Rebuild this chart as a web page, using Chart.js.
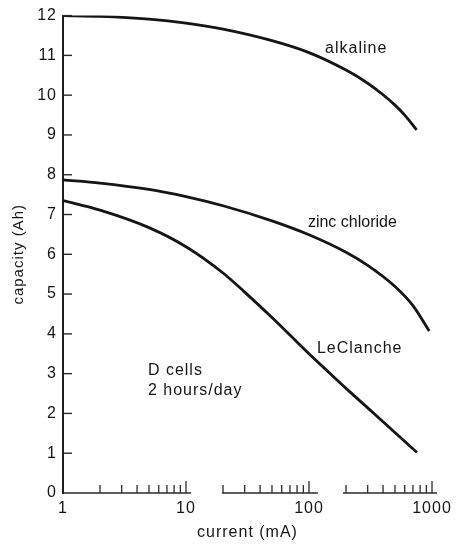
<!DOCTYPE html>
<html>
<head>
<meta charset="utf-8">
<script src="https://cdn.jsdelivr.net/npm/chart.js@4"></script>
<style>
  html, body { margin: 0; padding: 0; background: #fff; }
  #wrap { width: 460px; height: 547px; }
</style>
</head>
<body>
<div id="wrap"><canvas id="capacityChart"></canvas></div>
<script>
// current (mA) vs capacity (Ah), D cells, 2 hours/day
const alkalineCurrent = [1, 2, 5, 10, 20, 50, 100, 200, 300, 400, 500, 600, 750];
const alkalineCapacity = [12.0, 11.98, 11.91, 11.81, 11.66, 11.37, 11.07, 10.63, 10.3, 10.01, 9.75, 9.5, 9.13];

const zincCurrent = [1, 2, 5, 10, 20, 50, 100, 200, 300, 500, 700, 950];
const zincCapacity = [7.87, 7.79, 7.63, 7.45, 7.22, 6.84, 6.49, 6.05, 5.72, 5.19, 4.71, 4.07];

const leclancheCurrent = [1, 2, 5, 10, 20, 30, 50, 70, 100, 150, 200, 300, 400, 755];
const leclancheCapacity = [7.35, 7.11, 6.67, 6.19, 5.53, 5.05, 4.41, 3.97, 3.5, 2.99, 2.63, 2.14, 1.79, 1.02];

const xTickLabels = [1, 10, 100, 1000];
const yTickLabels = [0, 1, 2, 3, 4, 5, 6, 7, 8, 9, 10, 11, 12];

// the bottom axis is drawn in three pieces, as in the original figure
const axisPieces = [[1, 11], [19.6, 118], [189, 1100]];

const FONT = '"Liberation Sans", Arial, Helvetica, sans-serif';
const INK = '#151515';

function toPoints(xs, ys) {
  return xs.map((x, i) => ({ x: x, y: ys[i] }));
}

// labels placed in data space: [text, current, capacity, letterSpacing]
const notes = [
  ['alkaline', 135, 11.17, '1px'],
  ['zinc chloride', 98, 6.79, '0px'],
  ['LeClanche', 116, 3.63, '1px'],
  ['D cells', 4.9, 3.08, '1px'],
  ['2 hours/day', 4.9, 2.58, '1px']
];

const axisDecor = {
  id: 'axisDecor',
  beforeDraw(chart) {
    chart.ctx.letterSpacing = '1px';
  },
  afterDraw(chart) {
    const ctx = chart.ctx;
    const xs = chart.scales.x;
    const ys = chart.scales.y;
    const base = ys.getPixelForValue(0);
    const left = xs.getPixelForValue(1);
    ctx.save();
    ctx.strokeStyle = '#2a2a2a';
    ctx.lineCap = 'butt';

    // broken bottom axis
    ctx.lineWidth = 1.6;
    axisPieces.forEach(([a, b]) => {
      ctx.beginPath();
      ctx.moveTo(xs.getPixelForValue(a), base);
      ctx.lineTo(xs.getPixelForValue(b), base);
      ctx.stroke();
    });

    // upward ticks on the log axis
    ctx.lineWidth = 1.3;
    [1, 10, 100].forEach(d => {
      for (let m = 2; m <= 10; m++) {
        const px = xs.getPixelForValue(m * d);
        const len = m === 10 ? 12 : 8;
        ctx.beginPath();
        ctx.moveTo(px, base);
        ctx.lineTo(px, base - len);
        ctx.stroke();
      }
    });

    // inward ticks on the capacity axis
    ctx.lineWidth = 1.4;
    yTickLabels.forEach(v => {
      if (v === 0) return;
      const py = ys.getPixelForValue(v);
      ctx.beginPath();
      ctx.moveTo(left, py);
      ctx.lineTo(left + 9, py);
      ctx.stroke();
    });

    // curve labels
    ctx.fillStyle = INK;
    ctx.font = '16px ' + FONT;
    ctx.textAlign = 'left';
    ctx.textBaseline = 'middle';
    notes.forEach(([text, cx, cy, sp]) => {
      ctx.letterSpacing = sp;
      ctx.fillText(text, xs.getPixelForValue(cx), ys.getPixelForValue(cy));
    });
    ctx.restore();
  }
};

const lineStyle = {
  borderColor: INK,
  borderWidth: 2.8,
  pointRadius: 0,
  fill: false,
  cubicInterpolationMode: 'monotone'
};

new Chart(document.getElementById('capacityChart'), {
  type: 'line',
  data: {
    datasets: [
      Object.assign({ label: 'alkaline', data: toPoints(alkalineCurrent, alkalineCapacity) }, lineStyle),
      Object.assign({ label: 'zinc chloride', data: toPoints(zincCurrent, zincCapacity) }, lineStyle),
      Object.assign({ label: 'LeClanche', data: toPoints(leclancheCurrent, leclancheCapacity) }, lineStyle)
    ]
  },
  options: {
    responsive: true,
    maintainAspectRatio: false,
    animation: false,
    layout: { padding: { top: 14, right: 28, left: 0, bottom: 0 } },
    plugins: {
      legend: { display: false },
      tooltip: { enabled: false }
    },
    scales: {
      x: {
        type: 'logarithmic',
        min: 1,
        max: 1000,
        afterBuildTicks(scale) {
          scale.ticks = xTickLabels.map(v => ({ value: v }));
        },
        afterFit(scale) { scale.height = 54; },
        grid: { display: false, drawTicks: false },
        border: { display: false },
        ticks: {
          autoSkip: false,
          maxRotation: 0,
          padding: 6,
          color: INK,
          font: { family: FONT, size: 16 },
          callback: v => String(v)
        },
        title: {
          display: true,
          text: 'current (mA)',
          color: INK,
          font: { family: FONT, size: 16 },
          padding: { top: 0, bottom: 5 }
        }
      },
      y: {
        min: 0,
        max: 12,
        afterBuildTicks(scale) {
          scale.ticks = yTickLabels.map(v => ({ value: v }));
        },
        afterFit(scale) { scale.width = 63; },
        grid: { display: false, drawTicks: false },
        border: { display: true, color: '#1e1e1e', width: 2 },
        ticks: {
          padding: 6,
          color: INK,
          font: { family: FONT, size: 16 }
        },
        title: {
          display: true,
          text: 'capacity (Ah)',
          color: INK,
          font: { family: FONT, size: 15 },
          padding: { top: 10, bottom: 0 }
        }
      }
    }
  },
  plugins: [axisDecor]
});
</script>
</body>
</html>
